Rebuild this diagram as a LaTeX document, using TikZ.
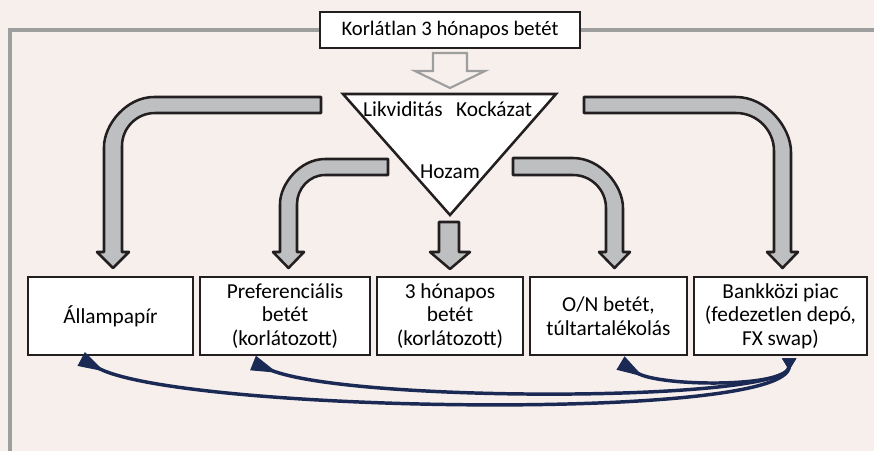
\documentclass[tikz,border=0pt]{standalone}
\usepackage{fontspec}
\setmainfont{Carlito}
\usetikzlibrary{arrows.meta}
\definecolor{bg}{HTML}{F6EFEC}
\definecolor{framegray}{HTML}{9E9E9E}
\definecolor{fatfill}{HTML}{BEBFC1}
\definecolor{ink}{HTML}{231F20}
\definecolor{navy}{HTML}{1B2A55}
\begin{document}
\begin{tikzpicture}[x=0.75pt,y=-0.75pt,
  box/.style={draw=ink, line width=2pt, fill=white, inner sep=0pt, align=center,
    minimum height=58.5pt, font=\fontsize{16}{17.6}\selectfont},
  fat/.style={fill=fatfill, draw=ink, line width=1.9pt, line join=round},
  hollow/.style={draw=framegray, line width=1.6pt, fill=bg},
  lbl/.style={inner sep=0pt, font=\fontsize{16}{17.6}\selectfont},
  flow/.style={draw=navy, line width=2.6pt,
    {Triangle[reversed,length=9pt,width=10pt]}-{Triangle[reversed,length=20pt,width=11pt]}}]
\useasboundingbox[fill=bg] (0,0) rectangle (874,451);
% frame
\draw[framegray, line width=2.6pt] (10,451) -- (10,30) -- (874,30);
% title
\node[draw=ink, line width=2pt, fill=white, minimum width=195pt, minimum height=27pt,
  inner sep=0pt, font=\fontsize{15.5}{17}\selectfont] (title) at (450,30) {Korlátlan 3 hónapos betét};
% hollow arrow
\draw[hollow] (433,53) -- (467,53) -- (467,71) -- (485,71) -- (450,88) -- (415,71) -- (433,71) -- cycle;
% triangle
\coordinate (tl) at (343,94);
\coordinate (tr) at (556,94);
\coordinate (tb) at (450,215);
\draw[draw=ink, line width=1.9pt, fill=white, line join=miter] (tl) -- (tr) -- (tb) -- cycle;
\node[lbl] (liq) at (403,109) {Likviditás};
\node[lbl] (risk) at (494,109) {Kockázat};
\node[lbl] (yield) at (450,172) {Hozam};
% fat arrows
\draw[fat] (321,97) -- (154,97) .. controls (126.4,97) and (104,124.6) .. (104,147) -- (104,252) -- (97,252) -- (113,268) -- (129,252) -- (122,252) -- (122,146) .. controls (122,127.8) and (136.8,113) .. (155,113) -- (321,113) -- cycle;
\draw[fat] (388,159) -- (325,159) .. controls (300.1,159) and (280,183.9) .. (280,204) -- (280,252) -- (273,252) -- (288.5,268) -- (304,252) -- (297,252) -- (297,204) .. controls (297,188.5) and (309.5,175) .. (325,175) -- (388,175) -- cycle;
\draw[fat] (439,222) -- (459,222) -- (459,252) -- (470,252) -- (450,269) -- (430,252) -- (439,252) -- cycle;
\draw[fat] (513,158) -- (573,158) .. controls (600.6,158) and (623,185.6) .. (623,208) -- (623,252) -- (630,252) -- (614.5,268) -- (599,252) -- (606,252) -- (606,208) .. controls (606,189.8) and (591.2,175) .. (573,175) -- (513,175) -- cycle;
\draw[fat] (584,97) -- (736,97) .. controls (766.4,97) and (791,127.4) .. (791,152) -- (791,252) -- (798,252) -- (782.5,268) -- (767,252) -- (774,252) -- (774,151) .. controls (774,130) and (757,113) .. (736,113) -- (584,113) -- cycle;
% boxes
\node[box, minimum width=123.75pt] (b1) at (110.5,316) {Állampapír};
\node[box, minimum width=127.5pt] (b2) at (285,316) {Preferenciális\\betét\\(korlátozott)};
\node[box, minimum width=109.5pt] (b3) at (450,316) {3 hónapos\\betét\\(korlátozott)};
\node[box, minimum width=117.75pt] (b4) at (608.5,316) {O/N betét,\\túltartalékolás};
\node[box, minimum width=129.75pt] (b5) at (780.5,316) {Bankközi piac\\(fedezetlen depó,\\FX swap)};
% flows
\coordinate (s1) at ([xshift=6.5pt,yshift=-1.5pt]b5.south);
\coordinate (e1) at ([xshift=-22pt,yshift=-2pt]b1.south);
\coordinate (e2) at ([xshift=-24pt,yshift=-5pt]b2.south);
\coordinate (e4) at ([xshift=9pt,yshift=-5pt]b4.south);
\draw[flow] (s1) .. controls +(0,-48pt) and +(75pt,-40pt) .. (e1);
\draw[flow] (s1) .. controls +(0,-33pt) and +(75pt,-30pt) .. (e2);
\draw[flow] (s1) .. controls +(0,-22pt) and +(30pt,-18pt) .. (e4);
\end{tikzpicture}
\end{document}
